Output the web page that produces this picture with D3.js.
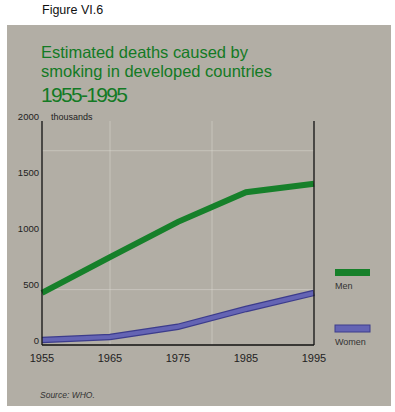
<!DOCTYPE html>
<html>
<head>
<meta charset="utf-8">
<title>Figure VI.6 | D3</title>
<style>
    body { margin: 0; background: #fff; }
    svg { display: block; font-family: "Liberation Sans", Arial, sans-serif; }
</style>
<script src="https://d3js.org/d3.v7.min.js"></script>
</head>
<body>
<script>
// data (thousands of deaths)
var years = [1955, 1965, 1975, 1985, 1995];
var men = [420, 740, 1055, 1320, 1395];
var women = [0, 27, 118, 277, 420];
var yTicks = [0, 500, 1000, 1500, 2000];
var seriesNames = ["Men", "Women"];
var seriesColors = ["#16802a", "#6464b4"];
var gridYears = [1965, 1980];
var gridVals = [1690, 450];

var width = 395, height = 412;

var svg = d3.select("body").append("svg")
    .attr("width", width)
    .attr("height", height);

// grey paper panel
svg.append("rect")
    .attr("x", 7).attr("y", 25)
    .attr("width", 384).attr("height", 381)
    .attr("fill", "#b2aea5");

svg.append("text")
    .attr("x", 42).attr("y", 14)
    .attr("font-size", 12.5)
    .attr("fill", "#111")
    .text("Figure VI.6");

// title
var title = svg.append("g").attr("fill", "#137a24");
title.append("text").attr("x", 41).attr("y", 58).attr("font-size", 16.5)
    .attr("textLength", 207).text("Estimated deaths caused by");
title.append("text").attr("x", 41).attr("y", 77).attr("font-size", 16.5)
    .attr("textLength", 231).text("smoking in developed countries");
title.append("text").attr("x", 41).attr("y", 102).attr("font-size", 21)
    .attr("textLength", 87).text("1955-1995");

var x = d3.scaleLinear().domain([1955, 1995]).range([42, 314]);
var y = d3.scaleLinear().domain([0, 2000]).range([340, 116]);
var frameTop = 121, frameBottom = 345;

// faint grid
svg.append("g").selectAll("line").data(gridYears).enter().append("line")
    .attr("x1", d => x(d)).attr("x2", d => x(d))
    .attr("y1", frameTop).attr("y2", frameBottom)
    .attr("stroke", "#dddad3").attr("stroke-width", 1).attr("opacity", 0.5);
svg.append("g").selectAll("line").data(gridVals).enter().append("line")
    .attr("x1", x(1955)).attr("x2", x(1995))
    .attr("y1", d => y(d)).attr("y2", d => y(d))
    .attr("stroke", "#dddad3").attr("stroke-width", 1).attr("opacity", 0.5);

// lines
var line = d3.line()
    .x((d, i) => x(years[i]))
    .y(d => y(d));

svg.append("path")
    .datum(women)
    .attr("d", line)
    .attr("fill", "none")
    .attr("stroke", "#3c3c8c")
    .attr("stroke-width", 6.5);
svg.append("path")
    .datum(women)
    .attr("d", line)
    .attr("fill", "none")
    .attr("stroke", seriesColors[1])
    .attr("stroke-width", 4);
svg.append("path")
    .datum(men)
    .attr("d", line)
    .attr("fill", "none")
    .attr("stroke", seriesColors[0])
    .attr("stroke-width", 6);

// frame
var frame = svg.append("g").attr("stroke", "#111").attr("stroke-width", 1.3);
frame.append("line").attr("x1", x(1955)).attr("x2", x(1955)).attr("y1", frameTop).attr("y2", frameBottom);
frame.append("line").attr("x1", x(1995)).attr("x2", x(1995)).attr("y1", frameTop).attr("y2", frameBottom);
frame.append("line").attr("x1", x(1955)).attr("x2", x(1995)).attr("y1", frameBottom).attr("y2", frameBottom);

// y tick labels
svg.append("g").selectAll("text").data(yTicks).enter().append("text")
    .attr("x", 39)
    .attr("y", d => y(d) + 3.5)
    .attr("text-anchor", "end")
    .attr("font-size", 9.5)
    .attr("fill", "#222")
    .text(d => d);

svg.append("text")
    .attr("x", 51).attr("y", 119.5)
    .attr("font-size", 9)
    .attr("fill", "#222")
    .text("thousands");

// x tick labels
svg.append("g").selectAll("text").data(years).enter().append("text")
    .attr("x", d => x(d))
    .attr("y", 362)
    .attr("text-anchor", "middle")
    .attr("font-size", 11)
    .attr("fill", "#222")
    .text(d => d);

// legend
var legendY = [269, 325];
var legend = svg.append("g").selectAll("g").data(seriesNames).enter().append("g")
    .attr("transform", (d, i) => "translate(335," + legendY[i] + ")");
legend.append("rect")
    .attr("width", 35).attr("height", 7)
    .attr("fill", (d, i) => seriesColors[i])
    .attr("stroke", (d, i) => i ? "#3c3c8c" : "none")
    .attr("stroke-width", 1);
legend.append("text")
    .attr("x", 0).attr("y", 20)
    .attr("font-size", 9)
    .attr("fill", "#333")
    .text(d => d);

svg.append("text")
    .attr("x", 40).attr("y", 398)
    .attr("font-size", 8.5)
    .attr("font-style", "italic")
    .attr("fill", "#333")
    .text("Source: WHO.");
</script>
</body>
</html>
